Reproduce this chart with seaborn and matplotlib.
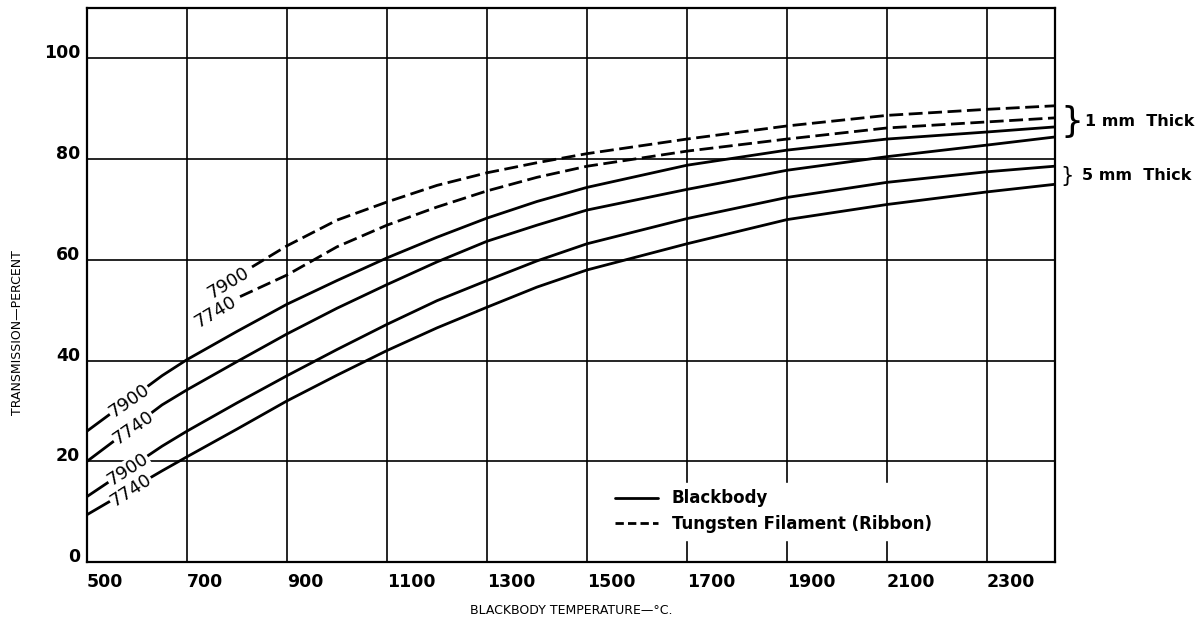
import matplotlib
matplotlib.use('Agg')
from matplotlib import pyplot as plt
from matplotlib.lines import Line2D
import seaborn as sns

sns.set_theme(style='white')
plt.rcParams['font.family'] = ['DejaVu Sans']
plt.rcParams['text.color'] = 'black'
plt.rcParams['axes.labelcolor'] = 'black'
plt.rcParams['xtick.color'] = 'black'
plt.rcParams['ytick.color'] = 'black'

# blackbody curves (solid)
temps = [500, 650, 700, 800, 900, 1000, 1100, 1200, 1300, 1400, 1500,
         1700, 1900, 2100, 2300, 2435]
bb_1mm_7900 = [26.0, 37.0, 40.2, 45.8, 51.2, 55.9, 60.4, 64.5, 68.3, 71.6, 74.4,
               78.8, 81.8, 84.0, 85.4, 86.4]
bb_1mm_7740 = [20.0, 31.2, 34.2, 39.8, 45.3, 50.4, 55.1, 59.6, 63.7, 66.9, 69.9,
               74.0, 77.8, 80.5, 82.8, 84.4]
bb_5mm_7900 = [13.0, 23.0, 26.0, 31.6, 37.0, 42.2, 47.2, 51.9, 55.9, 59.8, 63.2,
               68.2, 72.4, 75.4, 77.5, 78.6]
bb_5mm_7740 = [9.4, 18.1, 20.9, 26.4, 32.0, 37.1, 42.0, 46.5, 50.6, 54.6, 58.0,
               63.2, 68.0, 71.0, 73.5, 75.0]

# tungsten filament curves (dashed)
w_temps_7900 = [830, 900, 1000, 1100, 1200, 1300, 1400, 1500, 1700, 1900, 2100, 2300, 2435]
w_1mm_7900 = [58.6, 62.8, 67.9, 71.5, 74.8, 77.3, 79.3, 81.1, 84.0, 86.6, 88.7, 89.9, 90.6]
w_temps_7740 = [806, 900, 1000, 1100, 1200, 1300, 1400, 1500, 1700, 1900, 2100, 2300, 2435]
w_1mm_7740 = [52.7, 57.0, 62.6, 66.9, 70.5, 73.7, 76.4, 78.6, 81.6, 84.0, 86.2, 87.4, 88.2]

# glass code labels written on the curves
curve_labels = ['7900', '7740', '7900', '7740', '7900', '7740']
label_x = [584, 592, 582, 588, 782, 756]
label_y = [32.0, 26.7, 18.4, 14.2, 55.5, 49.6]
label_rot = [35, 35, 33, 33, 31, 31]

x_ticks = [500, 700, 900, 1100, 1300, 1500, 1700, 1900, 2100, 2300]
y_ticks = [0, 20, 40, 60, 80, 100]

fig = plt.figure(figsize=(12.04, 6.25), dpi=100)
ax = fig.add_axes([0.0723, 0.1008, 0.8039, 0.8862])

for ys in [bb_1mm_7900, bb_1mm_7740, bb_5mm_7900, bb_5mm_7740]:
    sns.lineplot(x=temps, y=ys, ax=ax, color='black', lw=2.0, legend=False)

dash = (0, (5, 2))
sns.lineplot(x=w_temps_7900, y=w_1mm_7900, ax=ax, color='black', lw=2.0,
             linestyle=dash, legend=False)
sns.lineplot(x=w_temps_7740, y=w_1mm_7740, ax=ax, color='black', lw=2.0,
             linestyle=dash, legend=False)

for txt, x, y, r in zip(curve_labels, label_x, label_y, label_rot):
    ax.text(x, y, txt, rotation=r, rotation_mode='anchor', ha='center', va='center',
            fontsize=13, color='black', zorder=5,
            bbox=dict(facecolor='white', edgecolor='none', pad=0.5))

ax.set_xlim(500, 2436)
ax.set_ylim(0, 110)
ax.set_xticks(x_ticks)
ax.set_yticks(y_ticks)
ax.grid(True, color='black', lw=1.2)
ax.tick_params(length=0, labelsize=12.5)
ax.tick_params(axis='x', pad=8)
ax.tick_params(axis='y', pad=5)
for lbl in ax.get_xticklabels():
    lbl.set_ha('left')
    lbl.set_fontweight('bold')
for lbl in ax.get_yticklabels():
    lbl.set_va('baseline')
    lbl.set_fontweight('bold')
for sp in ax.spines.values():
    sp.set_color('black')
    sp.set_linewidth(1.6)

ax.set_xlabel('BLACKBODY TEMPERATURE—°C.', fontsize=9)
ax.set_ylabel('TRANSMISSION—PERCENT', fontsize=9)
ax.xaxis.set_label_coords(0.5, -0.087)
ax.xaxis.label.set_va('center')
ax.yaxis.set_label_coords(-0.072, 0.415)
ax.yaxis.label.set_va('center')

handles = [Line2D([], [], color='black', lw=2.0),
           Line2D([], [], color='black', lw=2.0, linestyle=(0, (3, 1.5)))]
leg = ax.legend(handles, ['Blackbody', 'Tungsten Filament (Ribbon)'],
                loc='upper left', bbox_to_anchor=(0.53, 0.158),
                prop={'weight': 'bold', 'size': 12}, frameon=True,
                fancybox=False, framealpha=1, handlelength=2.6,
                handletextpad=0.8, labelspacing=0.45, borderpad=0.4)
leg.get_frame().set_edgecolor('white')
leg.get_frame().set_facecolor('white')

ax.text(1.006, 0.795, '}', transform=ax.transAxes, fontsize=26, va='center',
        ha='left')
ax.text(1.031, 0.795, '1 mm  Thick', transform=ax.transAxes, fontsize=11.5,
        va='center', ha='left', fontweight='bold')
ax.text(1.006, 0.697, '}', transform=ax.transAxes, fontsize=15, va='center',
        ha='left')
ax.text(1.028, 0.697, '5 mm  Thick', transform=ax.transAxes, fontsize=11.5,
        va='center', ha='left', fontweight='bold')

fig.savefig('out.png', dpi=100)
